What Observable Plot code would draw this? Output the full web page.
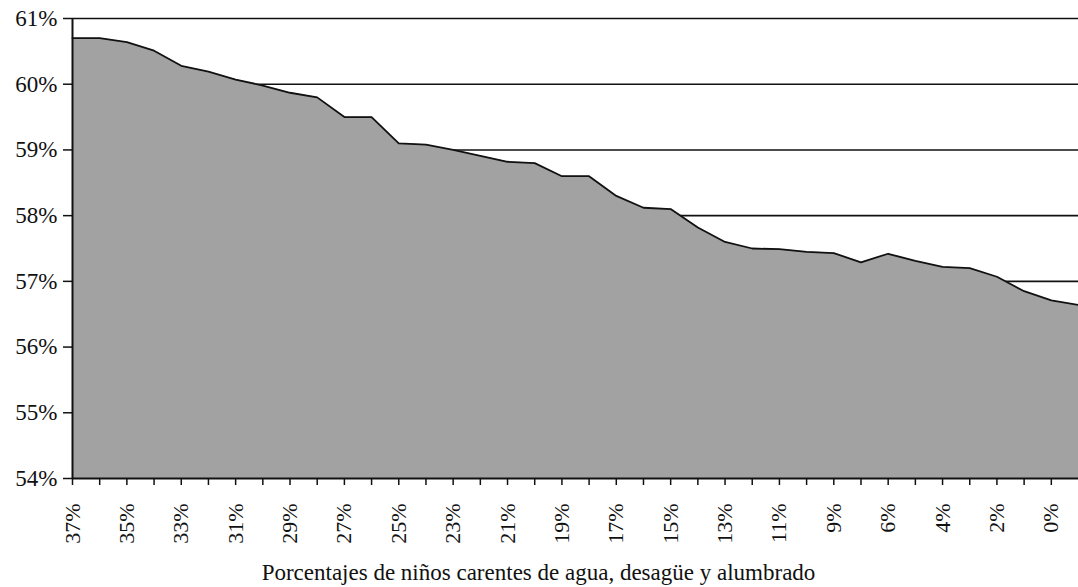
<!DOCTYPE html>
<html>
<head>
<meta charset="utf-8">
<script src="https://cdn.jsdelivr.net/npm/d3@7"></script>
<script src="https://cdn.jsdelivr.net/npm/@observablehq/plot@0.6"></script>
<style>
  html, body { margin: 0; padding: 0; background: #fff; }
  #chart svg { display: block; }
</style>
</head>
<body>
<div id="chart"></div>
<script>
// Category labels (x axis), left to right
const categories = ["37%","36%","35%","34%","33%","32%","31%","30%","29%","28%","27%","26%","25%","24%","23%","22%","21%","20%","19%","18%","17%","16%","15%","14%","13%","12%","11%","10%","9%","8%","6%","5%","4%","3%","2%","1%","0%"];
// Series values (%), one per category; the last one continues past the cropped right edge
const values = [60.7,60.7,60.64,60.51,60.28,60.19,60.07,59.98,59.87,59.8,59.5,59.5,59.1,59.08,59.0,58.91,58.82,58.8,58.6,58.6,58.3,58.12,58.1,57.82,57.6,57.5,57.49,57.45,57.43,57.29,57.42,57.31,57.22,57.2,57.07,56.85,56.71,56.64];
// Y tick values
const yTicks = [54,55,56,57,58,59,60,61];
const xTitle = "Porcentajes de niños carentes de agua, desagüe y alumbrado";

const data = values.map((v, i) => ({i, v}));

const chart = Plot.plot({
  width: 1078,
  height: 587,
  marginTop: 18,
  marginLeft: 72,
  marginRight: 0,
  marginBottom: 109,
  style: {fontFamily: "'Liberation Serif', 'DejaVu Serif', serif", fontSize: "22px", color: "#111", background: "#fff"},
  x: {type: "linear", domain: [0, values.length - 1]},
  y: {domain: [54, 61]},
  marks: [
    Plot.ruleY(yTicks.filter(d => d > 54), {stroke: "#111", strokeWidth: 1.6}),
    Plot.areaY(data, {x: "i", y1: 54, y2: "v", fill: "#a2a2a2"}),
    Plot.lineY(data, {x: "i", y: "v", stroke: "#111", strokeWidth: 1.8}),
    Plot.ruleY([54], {stroke: "#111", strokeWidth: 2}),
    Plot.ruleX([0], {stroke: "#111", strokeWidth: 2}),
    Plot.axisY({
      ticks: yTicks, tickFormat: d => d + "%", tickSize: 9, tickPadding: 6,
      label: null, fontSize: 23, stroke: "#111", strokeWidth: 1.5
    }),
    Plot.axisX({
      ticks: d3.range(categories.length),
      tickFormat: i => (i % 2 === 0 ? categories[i] : ""),
      tickRotate: -90, tickSize: 7, tickPadding: 18, fontSize: 22,
      stroke: "#111", strokeWidth: 1.5,
      label: null
    }),
    Plot.text([xTitle], {frameAnchor: "bottom", dy: 101, dx: -37, fontSize: 23, fill: "#111"})
  ]
});
document.getElementById("chart").appendChild(chart);
</script>
</body>
</html>
